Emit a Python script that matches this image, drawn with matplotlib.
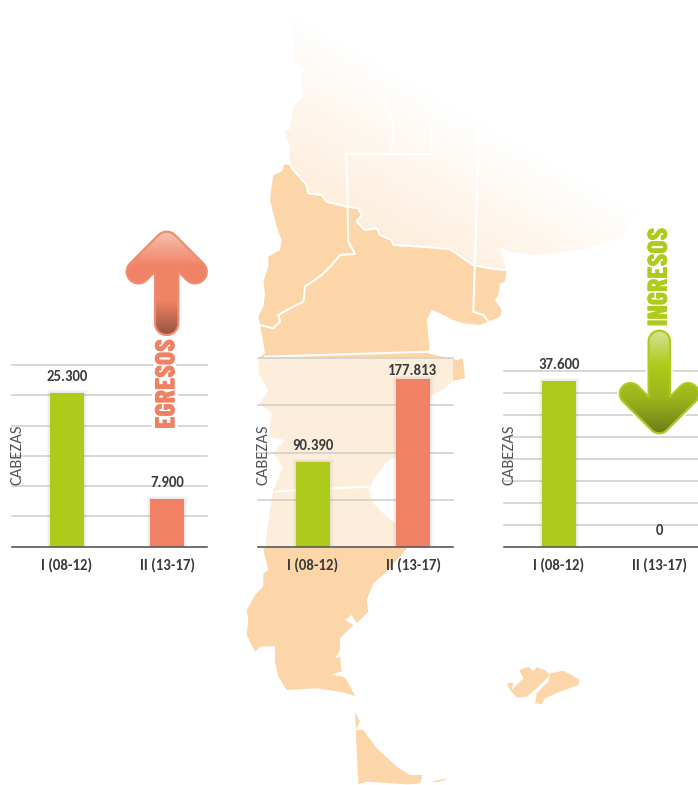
import matplotlib
matplotlib.use("Agg")
import matplotlib.patheffects as pe
import matplotlib.pyplot as plt
import numpy as np
from matplotlib.colors import LinearSegmentedColormap, to_rgb
from matplotlib.patches import Polygon, Rectangle

W, H = 698, 785

PERIODS = ["I (08-12)", "II (13-17)"]
EGRESOS = [25300, 7900]
TOTAL = [90390, 177813]
INGRESOS = [37600, 0]
LABELS_EGRESOS = ["25.300", "7.900"]
LABELS_TOTAL = ["90.390", "177.813"]
LABELS_INGRESOS = ["37.600", "0"]

GREEN = "#AECB1B"
SALMON = "#F18165"
MAP = "#FCD5A8"
TEXT = "#3A3A3A"

plt.rcParams["font.family"] = ["Carlito", "Lato", "DejaVu Sans"]

# map outlines, traced on 3x crops of the picture, see px()
BORDER = [(105, 490), (120, 492), (130, 510), (170, 555), (175, 580), (215, 585), (230, 605),
          (290, 620), (325, 625), (335, 645), (320, 665), (345, 690), (380, 685), (390, 705),
          (425, 720), (430, 735), (480, 738), (540, 742), (600, 748), (670, 795), (720, 805), (770, 810)]
NORTH_EDGE = [(750, 740), (780, 755), (850, 765), (1000, 750), (1120, 710), (1140, 670), (1215, 570),
              (1215, 540), (1165, 500), (1170, 450), (800, 200), (400, 60), (95, 20), (135, 100),
              (130, 130), (135, 190), (160, 210), (152, 240), (160, 290), (130, 320), (118, 390),
              (103, 395), (120, 440), (120, 490)]
EAST_TOP = [(765, 845), (750, 850), (745, 885), (735, 900), (755, 930), (750, 950), (715, 965), (690, 975),
            (640, 970), (610, 960), (570, 940), (545, 930), (530, 960), (535, 1010), (540, 1060)]
EAST_MID = [(570, 0), (565, 40), (650, 60), (668, 55), (675, 115), (640, 122), (615, 145), (570, 170),
            (520, 260), (470, 350), (440, 365), (400, 420), (385, 450), (400, 490), (440, 530), (467, 550),
            (490, 590), (505, 620)]
EAST_LOW = [(440, 95), (400, 130), (380, 180), (385, 215), (350, 250), (335, 225), (315, 240), (340, 255),
            (300, 295), (300, 330), (285, 355), (300, 350), (305, 395), (290, 398), (275, 405), (310, 410),
            (320, 420), (345, 468)]
WEST_LOW = [(300, 455), (230, 445), (140, 450), (115, 410), (105, 365), (105, 318), (60, 320), (45, 335),
            (20, 285), (25, 240), (20, 210), (45, 165), (70, 140), (70, 100), (85, 90), (70, 30), (75, 20)]
WEST_MID = [(90, 510), (100, 450), (130, 380), (100, 340), (135, 300), (85, 290), (95, 220), (60, 190),
            (85, 150), (55, 100), (55, 55)]
WEST_TOP = [(45, 1060), (35, 1000), (25, 950), (40, 920), (45, 880), (40, 845), (55, 800), (55, 770), (90, 750),
            (95, 720), (80, 680), (70, 640), (60, 600), (65, 560), (70, 525), (95, 515)]
TIERRA = [(345, 515), (360, 545), (347, 570), (370, 570), (410, 625), (470, 680), (510, 705), (548, 705),
          (540, 730), (500, 733), (380, 725), (355, 733)]
ISLA = [(575, 725), (625, 714), (610, 722), (590, 727)]
FALKLAND_W = [(800, 430), (820, 428), (815, 450), (850, 415), (838, 390), (865, 380), (880, 395), (890, 382),
              (915, 390), (930, 405), (890, 445), (860, 470), (830, 472), (810, 450)]
FALKLAND_E = [(930, 400), (970, 392), (1000, 408), (1018, 420), (1015, 435), (960, 455), (915, 475), (905, 492),
              (885, 490), (890, 460), (925, 425)]
PROV_LINES = [
    [(365, 150), (375, 205), (408, 260), (405, 320), (430, 370), (428, 420), (418, 462)],
    [(285, 462), (545, 462), (548, 215)],
    [(548, 358), (685, 364)],
    [(740, 300), (690, 305), (670, 935), (700, 945), (715, 965)],
    [(285, 462), (290, 480), (295, 725), (315, 762), (270, 765), (245, 795), (215, 825), (165, 860), (160, 905),
     (120, 925), (85, 945), (90, 965), (70, 985), (30, 975)],
    [(45, 1070), (540, 1055)],
]


def px(pts, x0, y0):
    # crop coordinates -> picture pixels
    return np.array(pts, dtype=float) / 3 + [x0, y0]


def draw_map(ax):
    north = np.vstack([px(BORDER, 250, 0), px(NORTH_EDGE, 250, 0)])
    yy, xx = np.mgrid[0:360, 250:670]
    fade = np.clip((-0.5 * xx + 0.87 * yy + 135) * 0.0027, 0, 1)
    rgba = np.zeros(fade.shape + (4,))
    rgba[..., :3] = to_rgb(MAP)
    rgba[..., 3] = fade
    clip = Polygon(north, transform=ax.transData, fc="none", ec="none")
    ax.add_patch(clip)
    im = ax.imshow(rgba, extent=(250, 670, 360, 0), aspect="auto", zorder=1)
    im.set_clip_path(clip)

    main = np.vstack([px(BORDER, 250, 0), px(EAST_TOP, 250, 0), px(EAST_MID, 240, 340),
                      px(EAST_LOW, 240, 540), px(WEST_LOW, 240, 540), px(WEST_MID, 240, 340),
                      px(WEST_TOP, 250, 0)])
    ax.add_patch(Polygon(main, fc=MAP, ec="none", zorder=2))
    for shape in (TIERRA, ISLA, FALKLAND_W, FALKLAND_E):
        ax.add_patch(Polygon(px(shape, 240, 540), fc=MAP, ec="none", zorder=2))

    for line in PROV_LINES + [BORDER]:
        pts = px(line, 250, 0)
        ax.plot(pts[:, 0], pts[:, 1], color="white", lw=1.5, zorder=3, solid_joinstyle="round")
    pts = px([(110, 455), (165, 450), (385, 440)], 240, 340)
    ax.plot(pts[:, 0], pts[:, 1], color="white", lw=1.5, zorder=3)

    # washed-out panel behind the middle chart
    ax.add_patch(Rectangle((258, 357), 194.7, 189.7, fc="white", ec="none", alpha=0.6, zorder=4))


def arrow_outline(cx, tip_y, length, h, a, down=False):
    # local y runs from the tip towards the tail, mirrored for the down arrow
    r2 = np.sqrt(2)
    arc = lambda c, t0, t1: np.c_[c[0] + h * np.cos(np.radians(np.linspace(t0, t1, 20))),
                                  c[1] + h * np.sin(np.radians(np.linspace(t0, t1, 20)))]
    right = np.vstack([
        arc((0, h), -90, -45),
        arc((a, a + h), -45, 135),
        [(h, h + h * (1 + r2))],
        arc((0, length - h), 0, 90),
    ])
    out = np.vstack([right, right[::-1] * [-1, 1]])
    if down:
        return np.c_[cx + out[:, 0], tip_y - out[:, 1]]
    return np.c_[cx + out[:, 0], tip_y + out[:, 1]]


def draw_arrow(ax, outline, colors, rim):
    y0, y1 = outline[:, 1].min(), outline[:, 1].max()
    x0, x1 = outline[:, 0].min(), outline[:, 0].max()
    ax.add_patch(Polygon(outline, fc="white", ec="white", lw=4, zorder=5))
    shape = Polygon(outline, fc="none", ec="none", zorder=6)
    ax.add_patch(shape)
    cmap = LinearSegmentedColormap.from_list("arrow", colors)
    im = ax.imshow(np.linspace(0, 1, 256)[:, None], cmap=cmap, extent=(x0, x1, y1, y0),
                   aspect="auto", zorder=6)
    im.set_clip_path(shape)
    ax.add_patch(Polygon(outline, fc="none", ec=rim, lw=1.6, zorder=7))


def bar_chart(fig, box, values, labels, ymax, step, offsets, colors):
    x0, x1, y0, y1 = box
    ax = fig.add_axes([x0 / W, 1 - y1 / H, (x1 - x0) / W, (y1 - y0) / H], facecolor="none")
    glow = [pe.Stroke(linewidth=5, foreground="#777777", alpha=0.04),
            pe.Stroke(linewidth=3, foreground="#777777", alpha=0.05),
            pe.Stroke(linewidth=1.5, foreground="#777777", alpha=0.06), pe.Normal()]
    bars = ax.bar(range(2), values, width=0.345, color=colors, zorder=2)
    for b, v in zip(bars, values):
        if v > 0:
            b.set_path_effects(glow)
    for i, (v, lab, off) in enumerate(zip(values, labels, offsets)):
        ax.annotate(lab, (i, v), xytext=(0, off * 0.72), textcoords="offset points", ha="center",
                    va="center", fontsize=10.6, fontweight="bold", color=TEXT, zorder=4)
    ax.set_xlim(-0.55, (x1 - x0 - 55) / 100)
    ax.set_ylim(0, ymax)
    ax.set_yticks(np.arange(0, ymax + 1, step))
    ax.set_yticklabels([])
    ax.set_xticks(range(2))
    ax.set_xticklabels(PERIODS, fontsize=10.6, fontweight="bold", color=TEXT)
    ax.tick_params(axis="both", length=0)
    ax.tick_params(axis="x", pad=8.5)
    ax.grid(axis="y", color="#CDCDCD", lw=1.1, clip_on=False, zorder=1)
    ax.set_axisbelow(True)
    for side in ("top", "left", "right"):
        ax.spines[side].set_visible(False)
    ax.spines["bottom"].set_color("#555555")
    ax.spines["bottom"].set_linewidth(1.1)
    return ax


fig = plt.figure(figsize=(W / 100, H / 100), dpi=100, facecolor="white")

bg = fig.add_axes([0, 0, 1, 1])
draw_map(bg)
bg.set_xlim(0, W)
bg.set_ylim(H, 0)
bg.axis("off")

bar_chart(fig, (12, 207, 365, 546.5), EGRESOS, LABELS_EGRESOS, 30000, 5000, (16, 16), [GREEN, SALMON])
bar_chart(fig, (258, 452.7, 358.3, 546.7), TOTAL, LABELS_TOTAL, 200000, 50000, (16, 8.6), [GREEN, SALMON])
bar_chart(fig, (504, 699, 370.7, 546.7), INGRESOS, LABELS_INGRESOS, 40000, 5000, (16, 16), [GREEN, SALMON])

top = fig.add_axes([0, 0, 1, 1], facecolor="none")
for x in (17, 263, 509):
    top.text(x, 455, "CABEZAS", rotation=90, ha="center", va="center", fontsize=12, color="#555555", zorder=8)

draw_arrow(top, arrow_outline(166.7, 231.7, 103.3, 11.7, 28.3),
           ["#F7C2B0", "#F08366", "#F08366", "#96533F"], "#F08A70")
draw_arrow(top, arrow_outline(659.3, 433.3, 102.6, 10.7, 28.8, down=True),
           ["#D8E39A", "#AECB1B", "#9DB41C", "#6C7D18"], "#AECB1B")

narrow = ["Barlow Condensed", "Liberation Sans", "DejaVu Sans"]
top.text(167, 384, "EGRESOS", rotation=90, ha="center", va="center", fontsize=20, fontweight=800,
         family=narrow, color=SALMON, zorder=8,
         path_effects=[pe.withStroke(linewidth=5, foreground="white"), pe.Normal()])
top.text(659.5, 277, "INGRESOS", rotation=90, ha="center", va="center", fontsize=20, fontweight=800,
         family=narrow, color=GREEN, zorder=8,
         path_effects=[pe.withStroke(linewidth=5, foreground="white"), pe.Normal()])
top.set_xlim(0, W)
top.set_ylim(H, 0)
top.axis("off")

fig.savefig("out.png", dpi=100)
